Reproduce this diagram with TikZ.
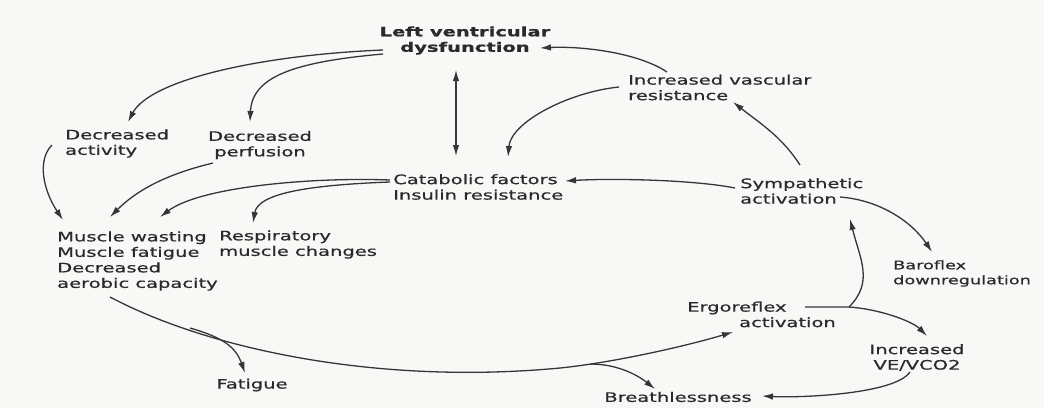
\documentclass[tikz,border=0pt]{standalone}
\usepackage{fontspec}
\setmainfont{DejaVu Sans}[FakeStretch=1.5,FakeBold=0.7]
\usetikzlibrary{arrows.meta,calc}
\definecolor{txt}{HTML}{2A2A2A}
\definecolor{ln}{HTML}{363636}
\definecolor{bg}{HTML}{F8F8F6}
\begin{document}
\begin{tikzpicture}[x=1pt,y=-1pt,
  lbl/.style={inner sep=0pt,text=txt,font=\fontsize{13}{15.5}\selectfont},
  lbll/.style={lbl,anchor=west,align=left},
  lblc/.style={lbl,anchor=center,align=center},
  tip/.style={-{Latex[length=11pt,width=6.5pt]}},
  arr/.style={draw=ln,line width=1.3pt,tip},
  dbl/.style={draw=ln,line width=1.3pt,{Latex[length=11pt,width=6.5pt]}-{Latex[length=11pt,width=6.5pt]}}]
\fill[bg] (0,0) rectangle (1044,408);
\useasboundingbox (0,0) rectangle (1044,408);

% nodes
\node[lblc,font=\fontsize{13}{15.5}\selectfont\bfseries] (lvd) at (465,40.5) {Left ventricular\\dysfunction};
\node[lbll] (ivr) at (628,87.5) {Increased vascular\\resistance};
\node[lbll] (dact) at (65,143.5) {Decreased\\activity};
\node[lblc] (dperf) at (260,145) {Decreased\\perfusion};
\node[lbll] (cat) at (393,187) {Catabolic factors\\Insulin resistance};
\node[lbll] (symp) at (740,191) {Sympathetic\\activation};
\node[lbll] (muscle) at (57,261) {Muscle wasting\\Muscle fatigue\\Decreased\\aerobic capacity};
\node[lbll] (resp) at (219,244.5) {Respiratory\\muscle changes};
\node[lbll,font=\fontsize{11.8}{15}\selectfont] (baro) at (893,273.5) {Baroflex\\downregulation};
\node[lbll] (ergo) at (687,314.5) {Ergoreflex\\\hspace*{52pt}activation};
\node[lblc] (ve) at (917,357.5) {Increased\\VE/VCO2};
\node[lblc] (fat) at (252,385) {Fatigue};
\node[lblc] (breath) at (678,397) {Breathlessness};

% branch points on the long curve
\coordinate (mid) at (560,368);
\coordinate (forkF) at (190,328);
\coordinate (forkB) at (590,364);
\coordinate (forkE) at (849,307);

% connectors
\draw[arr] ($(lvd.center)+(-82,9.5)$) .. controls +(-123,5) and +(22,-42) .. ($(dact.west)+(63,-21.5)$);
\draw[arr] ($(lvd.center)+(-82,13.5)$) .. controls +(-90,8) and +(2,-45) .. ($(dperf.center)+(-10,-23)$);
\draw[arr] ($(ivr.west)+(39,-15.5)$) .. controls +(-30,-20) and +(40,-2) .. ($(lvd.center)+(75,7.5)$);
\draw[arr] ($(ivr.west)+(-9,-0.5)$) .. controls +(-50,5) and +(3,-35) .. ($(cat.west)+(115,-30)$);
\draw[dbl] ($(lvd.center)+(-9,29.5)$) -- ($(cat.west)+(63,-31)$);
\draw[arr] ($(symp.west)+(60,-26)$) .. controls +(-18,-28) and +(28,22) .. ($(ivr.west)+(105,14.5)$);
\draw[arr] ($(symp.west)+(-5,-3)$) .. controls +(-40,-8) and +(50,-3) .. ($(cat.west)+(172,-6)$);
\draw[arr] ($(symp.west)+(100,6)$) .. controls +(40,3) and +(-20,-30) .. ($(baro.west)+(39,-21.5)$);
\draw[arr] ($(dact.west)+(-13,1.5)$) .. controls +(-15,15) and +(-20,-30) .. ($(muscle.west)+(6,-41)$);
\draw[arr] ($(dperf.center)+(-47,18)$) .. controls +(-50,12) and +(25,-25) .. ($(muscle.west)+(53,-44)$);
\draw[arr] ($(cat.west)+(-3,-7)$) .. controls +(-80,-3) and +(40,-30) .. ($(muscle.west)+(103,-44)$);
\draw[arr] ($(cat.west)+(-3,-5)$) .. controls +(-80,3) and +(5,-30) .. ($(resp.west)+(34,-21.5)$);

\draw[arr] ($(muscle.west)+(53,36)$) .. controls +(100,53) and +(-180,17) .. (mid)
   .. controls +(50,-5) and +(-50,15) .. ($(ergo.west)+(46,17.5)$);
\draw[arr] (forkF) .. controls +(35,10) and +(-9,-25) .. ($(fat.center)+(-7,-12)$);
\draw[arr] (forkB) .. controls +(30,0) and +(-15,-12) .. ($(breath.center)+(-23,-8)$);
\draw[arr] ($(ve.center)+(-7,14.5)$) .. controls +(-15,22) and +(40,2) .. ($(breath.center)+(84,-1)$);
\draw[arr] ($(ergo.west)+(118,-7.5)$) -- (forkE) .. controls +(25,-25) and +(10,40) .. ($(symp.west)+(110,28)$);
\draw[arr] (forkE) .. controls +(30,2) and +(-15,-15) .. ($(ve.center)+(10,-21.5)$);
\end{tikzpicture}
\end{document}
